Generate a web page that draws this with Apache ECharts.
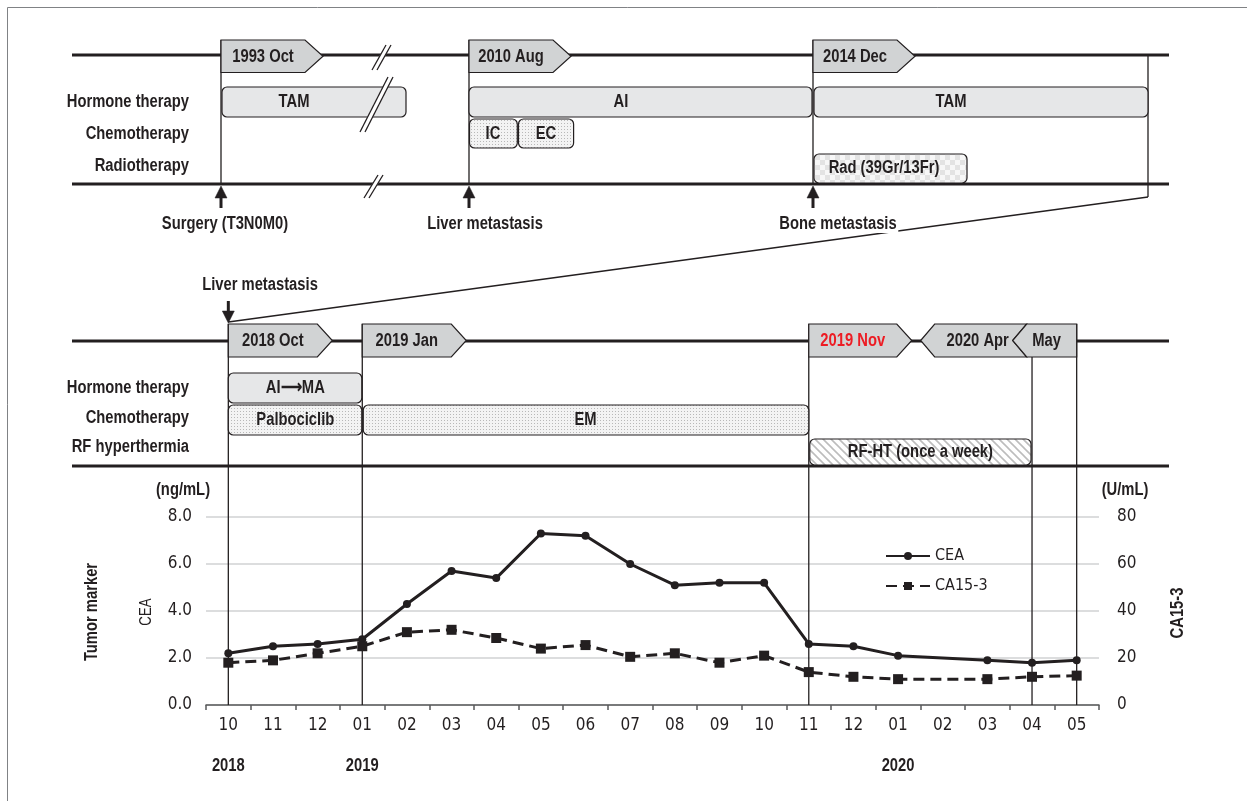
<!DOCTYPE html>
<html><head><meta charset="utf-8">
<script src="https://cdn.jsdelivr.net/npm/echarts@6/dist/echarts.min.js"></script>
<style>html,body{margin:0;padding:0;background:#fff}#c{width:1247px;height:801px}</style>
</head><body><div id="c"></div>
<script>
// ---- data ----
const months = ['2018-10','2018-11','2018-12','2019-01','2019-02','2019-03','2019-04','2019-05','2019-06','2019-07','2019-08','2019-09','2019-10','2019-11','2019-12','2020-01','2020-02','2020-03','2020-04','2020-05'];
const cea   = [2.2,2.5,2.6,2.8,4.3,5.7,5.4,7.3,7.2,6.0,5.1,5.2,5.2,2.6,2.5,2.1,null,1.9,1.8,1.9];
const ca153 = [18,19,22,25,31,32,28.5,24,25.5,20.5,22,18,21,14,12,11,null,11,12,12.5];
const ceaTicks = [0,2,4,6,8];
const caTicks = [0,20,40,60,80];
const yearLabels = ['2018','2019','2020'];
const yearIndex = [0,3,15];
// lower timeline events (category index)
const evIdx = {oct18:0, jan19:3, nov19:13, apr20:18, may20:19};

const FONT = "'DejaVu Sans Condensed',sans-serif";
const TFONT = "'Liberation Sans',Arial,sans-serif";
const SX = 0.82;
const INK = '#231f20';
const TAGFILL = '#d1d3d4';
const BARFILL = '#e6e7e8';

function pat(w,h,draw){const c=document.createElement('canvas');c.width=w;c.height=h;const g=c.getContext('2d');draw(g);return {image:c,repeat:'repeat'};}
const DOTS = pat(3,3,g=>{g.fillStyle='#f3f3f3';g.fillRect(0,0,3,3);g.fillStyle='#b8b8b8';g.fillRect(0,0,1,1);});
const CHECK = pat(10,10,g=>{g.fillStyle='#f7f7f7';g.fillRect(0,0,10,10);g.fillStyle='#e3e3e3';g.fillRect(0,0,5,5);g.fillRect(5,5,5,5);});
const HATCH = pat(8,8,g=>{g.fillStyle='#ffffff';g.fillRect(0,0,8,8);g.strokeStyle='#bdbdbd';g.lineWidth=1.6;g.beginPath();g.moveTo(-2,-2);g.lineTo(10,10);g.moveTo(-2,6);g.lineTo(2,10);g.moveTo(6,-2);g.lineTo(10,2);g.stroke();});

const chart = echarts.init(document.getElementById('c'), null, {renderer:'canvas'});
const axisLabelStyle = {color:INK, fontSize:17, fontFamily:FONT};
chart.setOption({
  animation:false,
  backgroundColor:'#fff',
  grid:{left:206, right:148, top:517, bottom:96, containLabel:false},
  legend:{orient:'vertical', left:880, top:543, itemWidth:44, itemHeight:10, itemGap:14,
    textStyle:{color:INK, fontSize:16, fontFamily:FONT}, data:['CEA','CA15-3']},
  xAxis:{type:'category', data:months, boundaryGap:true,
    axisLine:{lineStyle:{color:'#58595b', width:1.5}},
    axisTick:{show:true, length:5, lineStyle:{color:'#58595b', width:1.5}},
    axisLabel:{...axisLabelStyle, margin:12, formatter:v=>v.slice(5)}},
  yAxis:[
    {type:'value', min:ceaTicks[0], max:ceaTicks[ceaTicks.length-1], interval:2,
     axisLine:{show:false}, axisTick:{show:false},
     splitLine:{lineStyle:{color:'#dcddde', width:2}},
     axisLabel:{...axisLabelStyle, margin:14, formatter:v=>v.toFixed(1)}},
    {type:'value', min:caTicks[0], max:caTicks[caTicks.length-1], interval:20, position:'right',
     axisLine:{show:false}, axisTick:{show:false}, splitLine:{show:false},
     axisLabel:{...axisLabelStyle, margin:18}}
  ],
  series:[
    {name:'CEA', type:'line', data:cea, yAxisIndex:0, connectNulls:true, symbol:'circle', symbolSize:8,
     lineStyle:{color:INK, width:3}, itemStyle:{color:INK}, z:5},
    {name:'CA15-3', type:'line', data:ca153, yAxisIndex:1, connectNulls:true, symbol:'rect', symbolSize:10,
     lineStyle:{color:INK, width:3, type:[11,6]}, itemStyle:{color:INK}, z:5}
  ]
});

// ---- graphic layer ----
const cx = i => chart.convertToPixel({xAxisIndex:0}, i);
const axisY = chart.convertToPixel({yAxisIndex:0}, 0);
const G = [];
const L = (x1,y1,x2,y2,w=1.3,z=5,color=INK)=>G.push({type:'line',silent:true,z,shape:{x1,y1,x2,y2},style:{stroke:color,lineWidth:w}});
const P = (pts,fill,z=10,stroke=INK,lw=1.2)=>G.push({type:'polygon',silent:true,z,shape:{points:pts},style:{fill,stroke,lineWidth:lw}});
const B = (x1,y1,x2,y2,fill,z=10)=>G.push({type:'rect',silent:true,z,shape:{x:x1,y:y1,width:x2-x1,height:y2-y1,r:5},style:{fill,stroke:INK,lineWidth:1.2}});
const T = (x,y,t,o={})=>G.push({type:'text',silent:true,z:o.z||20,x,y,rotation:o.rot||0,scaleX:o.sx||SX,
  style:{text:t,x:0,y:0,fill:o.color||INK,fontSize:o.size||18,fontWeight:o.weight||'bold',fontFamily:TFONT,
    align:o.align||'center',verticalAlign:'middle',backgroundColor:o.bg,padding:o.pad}});
const tagR=(x,t,b,bw,pw,label,color)=>{P([[x,t],[x+bw,t],[x+bw+pw,(t+b)/2],[x+bw,b],[x,b]],TAGFILL,12);T(x+bw/2,(t+b)/2+1,label,{color});};
const arrowUp=(x,tip,len)=>{P([[x,tip],[x-6,tip+12],[x+6,tip+12]],INK,12,INK,0.5);L(x,tip+10,x,tip+len,3,12);};
const arrowDown=(x,tip,len)=>{P([[x,tip],[x-6,tip-12],[x+6,tip-12]],INK,12,INK,0.5);L(x,tip-10,x,tip-len,3,12);};
const brk=(xb,yb,xt,yt,gap=5)=>{P([[xb,yb],[xt,yt],[xt+gap,yt],[xb+gap,yb]],'#fff',15,'#fff',0.5);L(xb,yb,xt,yt,1.3,16);L(xb+gap,yb,xt+gap,yt,1.3,16);};

// frame
L(7.5,7.5,1247,7.5,1,1,'#808285');L(7.5,7.5,7.5,801,1,1,'#808285');

// upper overview panel
const LX=72, RX=1169;
L(LX,55,RX,55,3.2,8); L(LX,184,RX,184,3.2,8);
[221,469,813].forEach(x=>L(x,40,x,184,1.3,6));
L(1148,55,1148,197,1.3,6);
L(1148,197,cx(evIdx.oct18),322,1.3,6);
tagR(221,40,72.5,84,18,'1993 Oct');
tagR(469,40,72.5,84,18,'2010 Aug');
tagR(813,40,72.5,84,18,'2014 Dec');
B(222,87,406,117,BARFILL); T(294,102,'TAM');
B(469,87,812,117,BARFILL); T(621,102,'AI');
B(814,87,1148,117,BARFILL); T(951,102,'TAM');
B(469.5,119,517.3,148,DOTS); T(493,134,'IC');
B(518.5,119,573.6,148,DOTS); T(546,134,'EC');
B(814,154,967,183,CHECK); T(884,168,'Rad (39Gr/13Fr)');
brk(372,70,386,45); brk(360,132,388,77); brk(364,198,378,175);
T(189,102,'Hormone therapy',{align:'right'});
T(189,134,'Chemotherapy',{align:'right'});
T(189,166,'Radiotherapy',{align:'right'});
arrowUp(221,186,22); arrowUp(469,186,22); arrowUp(813,186,22);
T(225,224,'Surgery (T3N0M0)');
T(485,224,'Liver metastasis');
T(838,224,'Bone metastasis',{bg:'#fff',pad:[0,2,0,2]});

// lower detailed panel
const x0=cx(evIdx.oct18), x1=cx(evIdx.jan19), x2=cx(evIdx.nov19), x3=cx(evIdx.apr20), x4=cx(evIdx.may20);
L(LX,341,RX,341,3.2,8); L(LX,466,RX,466,3.2,8);
T(260,285,'Liver metastasis');
arrowDown(x0,323,22);
const tT=324, tB=357, tM=(tT+tB)/2;
L(x0,tT,x0,axisY,1.3,3); L(x1,tT,x1,axisY,1.3,3); L(x2,tT,x2,axisY,1.3,3);
L(x3,tB,x3,axisY,1.3,3); L(x4,tT,x4,axisY,1.3,3);
tagR(x0,tT,tB,89,15,'2018 Oct');
tagR(x1,tT,tB,89,15,'2019 Jan');
tagR(x2,tT,tB,88,15,'2019 Nov','#ed1c24');
P([[x4-156,tM],[x4-142,tT],[x4-50,tT],[x4-64,tM],[x4-50,tB],[x4-142,tB]],TAGFILL,12);
T(x4-99,tM+1,'2020 Apr');
P([[x4-64,tM],[x4-50,tT],[x4,tT],[x4,tB],[x4-50,tB]],TAGFILL,12);
T(x4-30,tM+1,'May');
B(x0,373,x1-0.5,403,BARFILL); T((x0+x1)/2,388,'AI\u27F6MA');
B(x0,405,x1-0.5,435,DOTS); T((x0+x1)/2,420,'Palbociclib');
B(x1+1,405,x2,435,DOTS); T((x1+x2)/2,420,'EM');
B(x2+1,439,x3-1,465,HATCH); T((x2+x3)/2,452,'RF-HT (once a week)');
T(189,388,'Hormone therapy',{align:'right'});
T(189,418,'Chemotherapy',{align:'right'});
T(189,447,'RF hyperthermia',{align:'right'});

// chart annotations
T(183,490,'(ng/mL)');
T(1125,490,'(U/mL)');
T(92,612,'Tumor marker',{rot:Math.PI/2});
T(146,612,'CEA',{rot:Math.PI/2,weight:'normal',size:17,sx:0.78});
T(1178,613,'CA15-3',{rot:Math.PI/2});
yearLabels.forEach((y,k)=>T(cx(yearIndex[k]),766,y));

chart.setOption({graphic:{elements:G}});
</script></body></html>
